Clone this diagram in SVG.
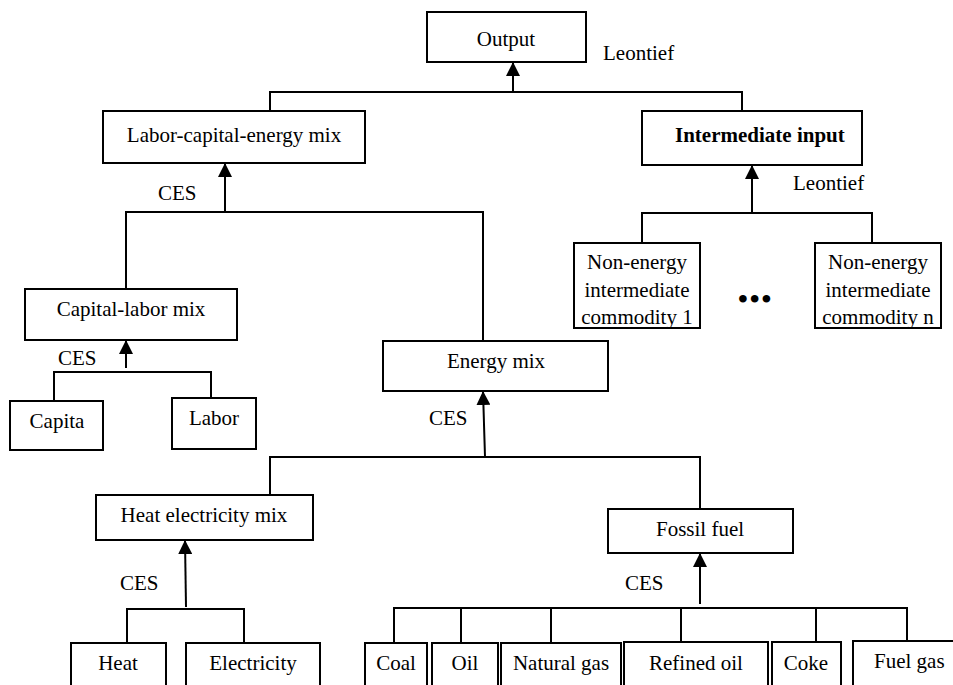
<svg xmlns="http://www.w3.org/2000/svg" width="953" height="685" viewBox="0 0 953 685">
<defs>
<style>
.box{fill:#fff;stroke:#000;stroke-width:2}
.t{font-family:"Liberation Serif","Times New Roman",serif;font-size:21px;fill:#000}
.c{text-anchor:middle}
.b{font-weight:bold}
.ln{fill:none;stroke:#000;stroke-width:2}
</style>
<marker id="ah" markerWidth="14" markerHeight="14" refX="14" refY="7" orient="auto" markerUnits="userSpaceOnUse" viewBox="0 0 14 14"><path d="M0,0 L14,7 L0,14 z" fill="#000"/></marker>
</defs>
<rect width="953" height="685" fill="#fff"/>

<g id="connectors">
<path class="ln" d="M270,111 V92 H742 V111"/>
<line class="ln" x1="513" y1="92" x2="513" y2="62" marker-end="url(#ah)"/>
<path class="ln" d="M126,289 V212 H483 V341"/>
<line class="ln" x1="225" y1="212" x2="225" y2="163" marker-end="url(#ah)"/>
<path class="ln" d="M54,401 V372 H211 V398"/>
<line class="ln" x1="126" y1="368" x2="126" y2="340" marker-end="url(#ah)"/>
<path class="ln" d="M642,243 V213 H872 V243"/>
<line class="ln" x1="752" y1="213" x2="752" y2="165" marker-end="url(#ah)"/>
<path class="ln" d="M270,495 V457 H700 V509"/>
<line class="ln" x1="485" y1="457" x2="483" y2="391" marker-end="url(#ah)"/>
<path class="ln" d="M127,643 V609 H244 V643"/>
<line class="ln" x1="186" y1="607" x2="185" y2="540" marker-end="url(#ah)"/>
<path class="ln" d="M394,643 V608 H907 V643 M461,608 V643 M551,608 V643 M681,608 V643 M816,608 V643"/>
<line class="ln" x1="700" y1="604" x2="700" y2="553" marker-end="url(#ah)"/>
</g>

<g id="labels">
<text class="t" x="603" y="60">Leontief</text>
<text class="t" x="158" y="200">CES</text>
<text class="t" x="793" y="190">Leontief</text>
<text class="t" x="58" y="365">CES</text>
<text class="t" x="429" y="425">CES</text>
<text class="t" x="120" y="590">CES</text>
<text class="t" x="625" y="590">CES</text>
<text class="t b" x="738" y="308" style="font-size:28px;letter-spacing:2px">•••</text>
</g>

<g id="output"><rect class="box" x="427" y="12" width="159" height="50"/><text class="t c" x="506" y="46">Output</text></g>
<g id="lce"><rect class="box" x="103" y="111" width="262" height="52"/><text class="t c" x="234" y="142">Labor-capital-energy mix</text></g>
<g id="intermediate"><rect class="box" x="642" y="111" width="220" height="54"/><text class="t b" x="675" y="142">Intermediate input</text></g>
<g id="nonenergy1"><rect class="box" x="574" y="243" width="126" height="85"/><text class="t c" x="637" y="269">Non-energy</text><text class="t c" x="637" y="297">intermediate</text><text class="t c" x="637" y="324">commodity 1</text></g>
<g id="nonenergyn"><rect class="box" x="815" y="243" width="126" height="85"/><text class="t c" x="878" y="269">Non-energy</text><text class="t c" x="878" y="297">intermediate</text><text class="t c" x="878" y="324">commodity n</text></g>
<g id="capitallabor"><rect class="box" x="25" y="289" width="212" height="51"/><text class="t c" x="131" y="316">Capital-labor mix</text></g>
<g id="capita"><rect class="box" x="10" y="401" width="93" height="49"/><text class="t c" x="57" y="428">Capita</text></g>
<g id="labor"><rect class="box" x="172" y="398" width="84" height="51"/><text class="t c" x="214" y="425">Labor</text></g>
<g id="energymix"><rect class="box" x="383" y="341" width="225" height="50"/><text class="t c" x="496" y="368">Energy mix</text></g>
<g id="heatelec"><rect class="box" x="96" y="495" width="217" height="45"/><text class="t c" x="204" y="522">Heat electricity mix</text></g>
<g id="fossil"><rect class="box" x="608" y="509" width="185" height="44"/><text class="t c" x="700" y="536">Fossil fuel</text></g>
<g id="heat"><rect class="box" x="71" y="643" width="95" height="60"/><text class="t c" x="118" y="670">Heat</text></g>
<g id="electricity"><rect class="box" x="186" y="643" width="134" height="60"/><text class="t c" x="253" y="670">Electricity</text></g>
<g id="coal"><rect class="box" x="365" y="643" width="62" height="60"/><text class="t c" x="396" y="670">Coal</text></g>
<g id="oil"><rect class="box" x="432" y="643" width="66" height="60"/><text class="t c" x="465" y="670">Oil</text></g>
<g id="naturalgas"><rect class="box" x="501" y="643" width="120" height="60"/><text class="t c" x="561" y="670">Natural gas</text></g>
<g id="refinedoil"><rect class="box" x="624" y="642" width="144" height="60"/><text class="t c" x="696" y="670">Refined oil</text></g>
<g id="coke"><rect class="box" x="772" y="642" width="69" height="60"/><text class="t c" x="806" y="670">Coke</text></g>
<g id="fuelgas"><rect class="box" x="853" y="641" width="110" height="60"/><text class="t" x="874" y="668">Fuel gas</text></g>
</svg>
